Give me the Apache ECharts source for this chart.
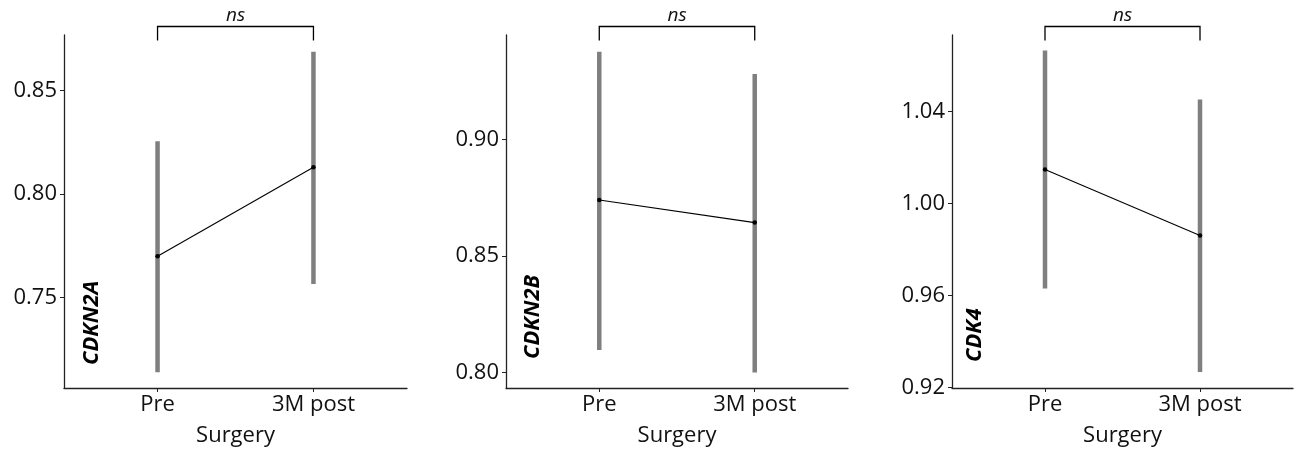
<!DOCTYPE html>
<html>
<head>
<meta charset="utf-8">
<script src="https://cdn.jsdelivr.net/npm/echarts@6/dist/echarts.min.js"></script>
<style>
  html, body { margin: 0; padding: 0; background: #fff; }
  #main { width: 1298px; height: 449px; }
</style>
</head>
<body>
<div id="main"></div>
<script>
// 数据
var categories = ['Pre', '3M post'];
var genes = ['CDKN2A', 'CDKN2B', 'CDK4'];

var means = [
    [0.770, 0.813],
    [0.874, 0.8643],
    [1.0148, 0.9861]
];
var lows = [
    [0.714, 0.7566],
    [0.8097, 0.800],
    [0.963, 0.9267]
];
var highs = [
    [0.8256, 0.8688],
    [0.9375, 0.928],
    [1.0667, 1.0453]
];
var yTicks = [
    [0.75, 0.80, 0.85],
    [0.80, 0.85, 0.90],
    [0.92, 0.96, 1.00, 1.04]
];
var yMin = [0.7064, 0.7934, 0.9197];
var yMax = [0.8769, 0.9447, 1.0734];
var sigLabel = 'ns';

// 布局
var grids = [
    { left: 64, right: 891, top: 35, bottom: 61, outerBoundsMode: 'none' },
    { left: 506, right: 450, top: 35, bottom: 61, outerBoundsMode: 'none' },
    { left: 952, right: 5, top: 35, bottom: 61, outerBoundsMode: 'none' }
];
var geneLabelPos = [[92, 365], [533, 359], [975, 362]];

var FONT = '"Open Sans", "Noto Sans", sans-serif';
var AXIS_COLOR = '#222';
var TEXT_COLOR = '#111';

var myChart = echarts.init(document.getElementById('main'));

var xAxes = [], yAxes = [], series = [], graphics = [];
var catPos = [1, 2];

for (var i = 0; i < 3; i++) {
    xAxes.push({
        gridIndex: i,
        type: 'value',
        min: 0.4,
        max: 2.6,
        name: 'Surgery',
        nameLocation: 'middle',
        nameGap: 37,
        nameTextStyle: { fontFamily: FONT, fontSize: 22, color: TEXT_COLOR },
        axisLine: { show: true, lineStyle: { color: AXIS_COLOR, width: 1.3 } },
        axisTick: { show: true, length: 4, customValues: catPos, lineStyle: { color: AXIS_COLOR } },
        axisLabel: {
            customValues: catPos,
            margin: 6,
            fontFamily: FONT, fontSize: 22, color: TEXT_COLOR,
            formatter: function (v) { return categories[Math.round(v) - 1]; }
        },
        splitLine: { show: false }
    });
    yAxes.push({
        gridIndex: i,
        type: 'value',
        min: yMin[i],
        max: yMax[i],
        axisLine: { show: true, lineStyle: { color: AXIS_COLOR, width: 1.3 } },
        axisTick: { show: true, length: 4, customValues: yTicks[i], lineStyle: { color: AXIS_COLOR } },
        axisLabel: {
            customValues: yTicks[i],
            margin: 7,
            fontFamily: FONT, fontSize: 22, color: TEXT_COLOR,
            formatter: function (v) { return v.toFixed(2); }
        },
        splitLine: { show: false }
    });

    // 误差线
    var barData = catPos.map(function (x, k) { return [x, lows[i][k], highs[i][k]]; });
    series.push({
        type: 'custom',
        xAxisIndex: i, yAxisIndex: i,
        data: barData,
        renderItem: function (params, api) {
            var x = api.value(0);
            var lo = api.coord([x, api.value(1)]);
            var hi = api.coord([x, api.value(2)]);
            return {
                type: 'line',
                shape: { x1: lo[0], y1: lo[1], x2: hi[0], y2: hi[1] },
                style: { stroke: '#7f7f7f', lineWidth: 4.5 }
            };
        },
        z: 1
    });

    // 均值连线
    series.push({
        type: 'line',
        xAxisIndex: i, yAxisIndex: i,
        data: catPos.map(function (x, k) { return [x, means[i][k]]; }),
        symbol: 'circle',
        symbolSize: 4.5,
        itemStyle: { color: '#000' },
        lineStyle: { color: '#000', width: 1.1 },
        z: 3
    });

    // 显著性括号
    (function (idx) {
        series.push({
            type: 'custom',
            xAxisIndex: idx, yAxisIndex: idx,
            clip: false,
            data: [[catPos[0], catPos[1]]],
            renderItem: function (params, api) {
                var p1 = api.coord([api.value(0), yMax[idx]]);
                var p2 = api.coord([api.value(1), yMax[idx]]);
                var top = p1[1] - 8.5;
                var end = p1[1] + 5.5;
                return {
                    type: 'group',
                    children: [{
                        type: 'polyline',
                        shape: { points: [[p1[0], end], [p1[0], top], [p2[0], top], [p2[0], end]] },
                        style: { stroke: '#000', lineWidth: 1.3, fill: null }
                    }, {
                        type: 'text',
                        style: {
                            x: (p1[0] + p2[0]) / 2, y: top - 1,
                            text: sigLabel,
                            align: 'center', verticalAlign: 'bottom',
                            font: 'italic 19px ' + FONT,
                            fill: '#111'
                        }
                    }]
                };
            },
            z: 4
        });
    })(i);

    // 基因名
    graphics.push({
        type: 'text',
        x: geneLabelPos[i][0],
        y: geneLabelPos[i][1],
        rotation: Math.PI / 2,
        style: {
            text: genes[i],
            align: 'left',
            verticalAlign: 'middle',
            font: 'italic bold 22px ' + FONT,
            fill: '#000'
        }
    });
}

var option = {
    animation: false,
    grid: grids,
    xAxis: xAxes,
    yAxis: yAxes,
    series: series,
    graphic: graphics
};

myChart.setOption(option);
</script>
</body>
</html>
